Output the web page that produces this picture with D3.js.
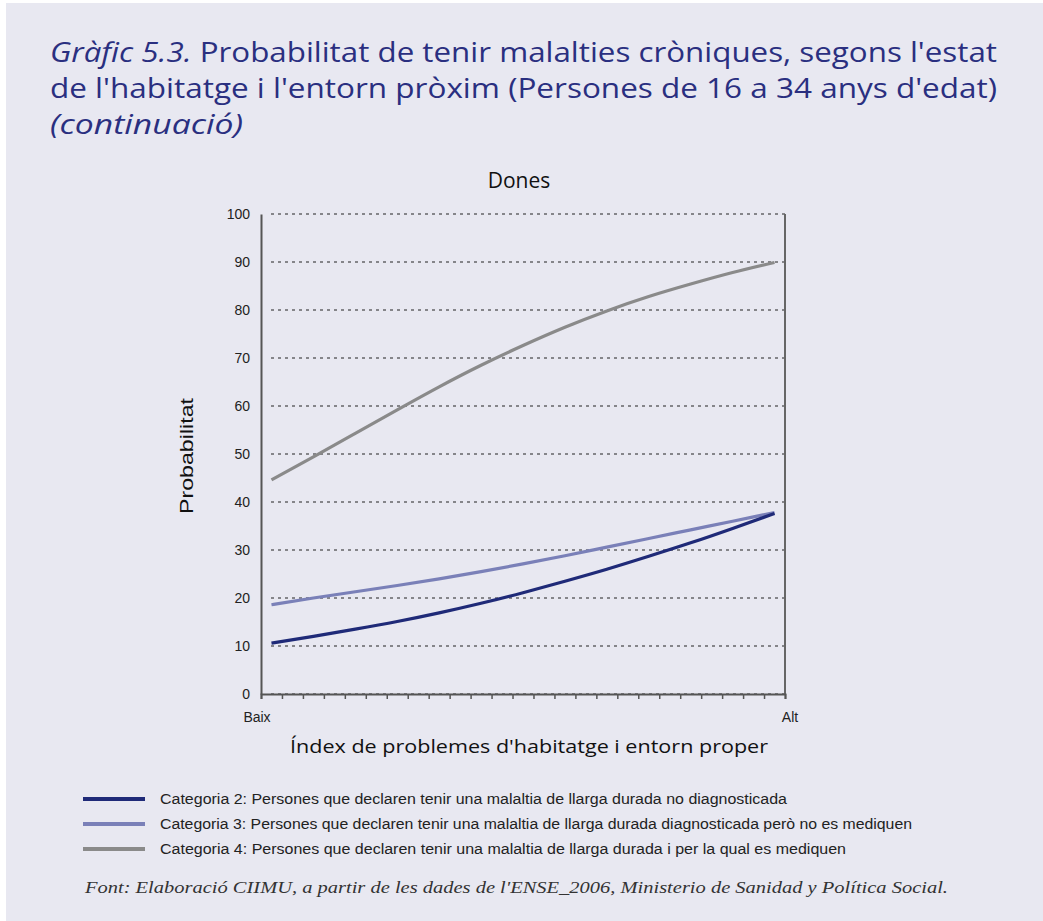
<!DOCTYPE html>
<html>
<head>
<meta charset="utf-8">
<script src="https://cdn.jsdelivr.net/npm/d3@7"></script>
<style>
  html, body { margin: 0; padding: 0; background: #fff; }
  svg { display: block; }
</style>
</head>
<body>
<svg id="chart" width="1043" height="921"></svg>
<script>
// values, x is position on the 0..25 index scale
const xPos = [0.5, 2.5, 4.5, 6.5, 8.5, 10.5, 12.5, 14.5, 16.5, 18.5, 20.5, 22.5, 24.5];
const cat2 = [10.6, 12.0, 13.5, 15.1, 16.9, 18.9, 21.1, 23.5, 26.0, 28.7, 31.5, 34.5, 37.6];
const cat3 = [18.6, 20.0, 21.3, 22.6, 24.0, 25.5, 27.1, 28.8, 30.6, 32.4, 34.2, 36.0, 37.8];
const cat4 = [44.6, 49.4, 54.3, 59.2, 64.0, 68.5, 72.6, 76.4, 79.8, 82.8, 85.4, 87.8, 89.9];
const yTicks = [0, 10, 20, 30, 40, 50, 60, 70, 80, 90, 100];
const xTickCount = 25;
const legendLabels = [
  "Categoria 2: Persones que declaren tenir una malaltia de llarga durada no diagnosticada",
  "Categoria 3: Persones que declaren tenir una malaltia de llarga durada diagnosticada però no es mediquen",
  "Categoria 4: Persones que declaren tenir una malaltia de llarga durada i per la qual es mediquen"
];
const legendWidths = [627, 752, 686];
const colors = ["#1f2a78", "#7a80b8", "#8a8a8a"];

const svg = d3.select("#chart");

// lavender panel
svg.append("rect").attr("x", 6).attr("y", 3).attr("width", 1037).attr("height", 918)
  .attr("fill", "#e8e8f1");

// title
const title = svg.append("g").attr("fill", "#2a2f80")
  .style("font-family", "'Open Sans', sans-serif").style("font-size", "28px");
const t1 = title.append("text").attr("x", 50).attr("y", 62)
  .attr("textLength", 947).attr("lengthAdjust", "spacingAndGlyphs");
t1.append("tspan").style("font-style", "italic").text("Gràfic 5.3. ");
t1.append("tspan").text("Probabilitat de tenir malalties cròniques, segons l'estat");
title.append("text").attr("x", 50).attr("y", 98)
  .attr("textLength", 947).attr("lengthAdjust", "spacingAndGlyphs")
  .text("de l'habitatge i l'entorn pròxim (Persones de 16 a 34 anys d'edat)");
title.append("text").attr("x", 50).attr("y", 134).style("font-style", "italic")
  .attr("textLength", 193).attr("lengthAdjust", "spacingAndGlyphs")
  .text("(continuació)");

// plot area
const pLeft = 261, pRight = 785, pTop = 214, pBottom = 694;
const x = d3.scaleLinear().domain([0, xTickCount]).range([pLeft, pRight]);
const y = d3.scaleLinear().domain([0, 100]).range([pBottom, pTop]);

svg.append("text").attr("x", 519).attr("y", 188).attr("text-anchor", "middle")
  .style("font-family", "'Open Sans', sans-serif").style("font-size", "21px")
  .attr("fill", "#111").text("Dones");

// gridlines
svg.append("g").selectAll("line").data(yTicks).join("line")
  .attr("x1", pLeft + 10).attr("x2", pRight)
  .attr("y1", d => y(d)).attr("y2", d => y(d))
  .attr("stroke", "#222").attr("stroke-width", 1).attr("stroke-dasharray", "3,4");

// y axis
const yAxis = svg.append("g").attr("transform", `translate(${pLeft},0)`)
  .call(d3.axisLeft(y).tickValues(yTicks).tickSize(0).tickPadding(11));
yAxis.select(".domain").attr("stroke", "#555").attr("stroke-width", 2);
yAxis.selectAll("text").style("font-family", "'Liberation Sans', Arial, sans-serif")
  .style("font-size", "14px").attr("fill", "#222");

// right border
svg.append("line").attr("x1", pRight).attr("x2", pRight).attr("y1", pTop).attr("y2", pBottom)
  .attr("stroke", "#666").attr("stroke-width", 2);

// x axis
const xAxis = svg.append("g").attr("transform", `translate(0,${pBottom})`)
  .call(d3.axisBottom(x).ticks(xTickCount).tickSize(5).tickFormat(""));
xAxis.select(".domain").attr("stroke", "#555").attr("stroke-width", 2);
xAxis.selectAll(".tick line").attr("stroke", "#555").attr("stroke-width", 1.5);

const xLab = svg.append("g").style("font-family", "'Liberation Sans', Arial, sans-serif")
  .style("font-size", "14px").attr("fill", "#222");
xLab.append("text").attr("x", x(0) - 4).attr("y", 722).attr("text-anchor", "middle").text("Baix");
xLab.append("text").attr("x", x(xTickCount) + 5).attr("y", 722).attr("text-anchor", "middle").text("Alt");

svg.append("text").attr("x", 529).attr("y", 753).attr("text-anchor", "middle")
  .style("font-family", "'Open Sans', sans-serif").style("font-size", "19px")
  .attr("fill", "#111").attr("textLength", 478).attr("lengthAdjust", "spacingAndGlyphs")
  .text("Índex de problemes d'habitatge i entorn proper");

svg.append("text").attr("transform", "translate(193,456) rotate(-90)")
  .attr("text-anchor", "middle")
  .style("font-family", "'Liberation Sans', Arial, sans-serif").style("font-size", "19px")
  .attr("fill", "#111").attr("textLength", 116).attr("lengthAdjust", "spacingAndGlyphs")
  .text("Probabilitat");

// lines
const line = d3.line().x((d, i) => x(xPos[i])).y(d => y(d)).curve(d3.curveNatural);
[cat4, cat3, cat2].forEach((s, k) => {
  svg.append("path").datum(s).attr("d", line)
    .attr("fill", "none").attr("stroke", colors[2 - k]).attr("stroke-width", 3.2);
});

// legend
const legend = svg.append("g");
legendLabels.forEach((lab, i) => {
  const ly = 799 + i * 25;
  legend.append("line").attr("x1", 83).attr("x2", 145).attr("y1", ly).attr("y2", ly)
    .attr("stroke", colors[i]).attr("stroke-width", 4);
  legend.append("text").attr("x", 160).attr("y", ly + 5)
    .style("font-family", "'Liberation Sans', Arial, sans-serif").style("font-size", "14px")
    .attr("fill", "#222").attr("textLength", legendWidths[i]).attr("lengthAdjust", "spacingAndGlyphs")
    .text(lab);
});

// source
svg.append("text").attr("x", 85).attr("y", 893)
  .style("font-family", "'Liberation Serif', serif").style("font-style", "italic")
  .style("font-size", "17px").attr("fill", "#333")
  .attr("textLength", 863).attr("lengthAdjust", "spacingAndGlyphs")
  .text("Font: Elaboració CIIMU, a partir de les dades de l'ENSE_2006, Ministerio de Sanidad y Política Social.");
</script>
</body>
</html>
